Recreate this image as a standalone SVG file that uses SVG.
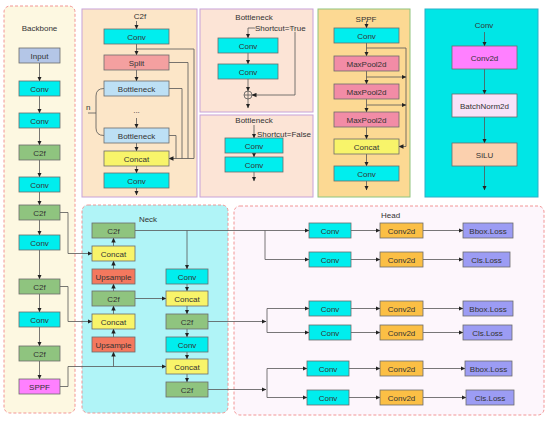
<svg xmlns="http://www.w3.org/2000/svg" width="550" height="421" viewBox="0 0 550 421">
<defs>
<marker id="ah" markerUnits="userSpaceOnUse" markerWidth="5" markerHeight="5" refX="4.5" refY="2.5" orient="auto">
<path d="M0,0.3 L4.8,2.5 L0,4.7 z" fill="#222"/>
</marker>
<style>
text{font-family:"Liberation Sans",Arial,sans-serif;font-size:8px;fill:#333;}
.c{text-anchor:middle;}
.b{stroke:#6b6b6b;stroke-width:0.8;}
.conv{fill:#00eeee;}
.c2f{fill:#8fc47f;}
.cat{fill:#f8f46a;}
.up{fill:#f4785e;}
.inp{fill:#b4c6e7;}
.sppf{fill:#ff80ff;}
.split{fill:#f4a0a0;}
.bott{fill:#bde0f5;}
.mp{fill:#f28ca6;}
.c2d{fill:#fbbf45;}
.loss{fill:#9c9cf4;}
.ln{fill:none;stroke:#555;stroke-width:0.8;}
.la{fill:none;stroke:#555;stroke-width:0.8;marker-end:url(#ah);}
.dash{stroke:#f08a8a;stroke-width:0.9;stroke-dasharray:3,2;}
.lav{stroke:#c8a2d8;stroke-width:1;}
</style>
</defs>
<rect width="550" height="421" fill="#ffffff"/>

<!-- Panels -->
<g id="panels">
<rect x="4" y="6" width="71" height="407" rx="6" fill="#fdf8e1" class="dash"/>
<rect x="82" y="205" width="146" height="208" rx="6" fill="#b0f4f7" class="dash"/>
<rect x="234" y="206" width="310" height="209" rx="6" fill="#fdf6fc" class="dash"/>
<rect x="82" y="9" width="115" height="188" fill="#fce6c8" class="lav"/>
<rect x="200" y="9" width="113" height="103" fill="#fce4d6" class="lav"/>
<rect x="200" y="115" width="113" height="82" fill="#fce4d6" class="lav"/>
<rect x="318" y="9" width="92" height="188" fill="#fcd993" stroke="#8fc47f" stroke-width="1"/>
<rect x="425" y="9" width="113" height="188" fill="#00e6e6" stroke="#2ab0c8" stroke-width="1"/>
<text x="39.5" y="31" class="c">Backbone</text>
<text x="148" y="222" class="c">Neck</text>
<text x="381" y="218">Head</text>
<text x="140" y="19" class="c">C2f</text>
<text x="254" y="20" class="c">Bottleneck</text>
<text x="254" y="123" class="c">Bottleneck</text>
<text x="257" y="137">Shortcut=False</text>
<text x="366" y="22" class="c">SPPF</text>
<text x="484" y="28" class="c">Conv</text>
<text x="86" y="110">n</text>
<text x="136.5" y="113" class="c">...</text>
</g>

<!-- Connectors -->
<g id="connectors">
<!-- backbone -->
<path class="la" d="M39.5,63 V81"/>
<path class="la" d="M39.5,96 V113"/>
<path class="la" d="M39.5,128 V145"/>
<path class="la" d="M39.5,160 V177"/>
<path class="la" d="M39.5,192 V205"/>
<path class="la" d="M39.5,220 V235"/>
<path class="la" d="M39.5,250 V279"/>
<path class="la" d="M39.5,294 V312"/>
<path class="la" d="M39.5,327 V346"/>
<path class="la" d="M39.5,361 V379"/>
<path class="la" d="M60,212.5 H68 V253.5 H92"/>
<path class="la" d="M60,286.5 H68 V321.5 H92"/>
<path class="la" d="M60,386.5 H68 V366.5 H166"/>
<path class="la" d="M113.5,366.5 V352"/>
<!-- neck -->
<path class="la" d="M113.5,246 V238"/>
<path class="la" d="M113.5,269 V261"/>
<path class="la" d="M113.5,291 V284"/>
<path class="la" d="M113.5,314 V306"/>
<path class="la" d="M113.5,337 V329"/>
<path class="la" d="M187,230.5 V269"/>
<path class="la" d="M187,284 V291"/>
<path class="la" d="M187,306 V314"/>
<path class="la" d="M187,329 V337"/>
<path class="la" d="M187,352 V359"/>
<path class="la" d="M187,374 V382"/>
<path class="la" d="M135,298.5 H166"/>
<!-- to head -->
<path class="la" d="M135,230.5 H309"/>
<path class="la" d="M265,230.5 V259.5 H309"/>
<path class="la" d="M208,321.5 H266"/>
<path class="ln" d="M267,308.5 V332.5"/>
<path class="la" d="M267,308.5 H309"/>
<path class="la" d="M267,332.5 H309"/>
<path class="la" d="M208,389.5 H266"/>
<path class="ln" d="M267,368.5 V397.5"/>
<path class="la" d="M267,368.5 H307"/>
<path class="la" d="M267,397.5 H307"/>
<!-- head rows -->
<path class="la" d="M351,230.5 H380"/>
<path class="la" d="M351,259.5 H380"/>
<path class="la" d="M351,308.5 H380"/>
<path class="la" d="M351,332.5 H380"/>
<path class="la" d="M349,368.5 H380"/>
<path class="la" d="M349,397.5 H380"/>
<path class="la" d="M423,230.5 H463"/>
<path class="la" d="M423,259.5 H463"/>
<path class="la" d="M423,308.5 H463"/>
<path class="la" d="M423,332.5 H463"/>
<path class="la" d="M423,368.5 H465"/>
<path class="la" d="M423,397.5 H466"/>
<!-- C2f panel -->
<path class="la" d="M136.5,21 V29"/>
<path class="la" d="M136.5,44 V55"/>
<path class="la" d="M136.5,70 V81"/>
<path class="la" d="M136.5,118 V128"/>
<path class="la" d="M136.5,143 V151"/>
<path class="la" d="M136.5,166 V173"/>
<path class="la" d="M136.5,188 V195"/>
<path class="la" d="M136.5,49 H194 V158.5 H169"/>
<path class="ln" d="M169,62.5 H188 V158.5"/>
<path class="ln" d="M169,88.5 H182 V158.5"/>
<path class="ln" d="M169,135.5 H176 V158.5"/>
<path class="ln" d="M104,88.5 Q96,88.5 96,96 V128 Q96,135.5 104,135.5"/>
<path class="ln" d="M88,113 H96"/>
<!-- Bottleneck True -->
<path class="la" d="M248,28 V38"/>
<path class="la" d="M248,28 H295 V95 H252"/>
<path class="la" d="M248,53 V64"/>
<path class="la" d="M248,79 V91"/>
<path class="la" d="M248,99 V108"/>
<circle cx="248" cy="95" r="4" fill="none" stroke="#555" stroke-width="0.8"/>
<path class="ln" d="M244,95 H252 M248,91 V99"/>
<!-- Bottleneck False -->
<path class="la" d="M254,125 V138"/>
<path class="la" d="M254,153 V157"/>
<path class="la" d="M254,172 V181"/>
<!-- SPPF -->
<path class="la" d="M366.5,21 V28"/>
<path class="la" d="M366.5,43 V56"/>
<path class="la" d="M366.5,71 V84"/>
<path class="la" d="M366.5,99 V112"/>
<path class="la" d="M366.5,127 V139"/>
<path class="la" d="M366.5,154 V166"/>
<path class="la" d="M366.5,181 V190"/>
<path class="la" d="M366.5,48 H406 V146.5 H399"/>
<path class="la" d="M366.5,77 H406"/>
<path class="la" d="M366.5,105 H406"/>
<!-- Conv panel -->
<path class="la" d="M484.5,32 V46"/>
<path class="la" d="M484.5,69 V94"/>
<path class="la" d="M484.5,117 V143"/>
<path class="la" d="M484.5,166 V190"/>
</g>
<text x="255" y="31" fill="#333" style="paint-order:stroke" stroke="#fce4d6" stroke-width="1.5">Shortcut=True</text>

<!-- Backbone nodes -->
<g id="bb-input"><rect x="19" y="48" width="41" height="15" class="b inp"/><text x="39.5" y="58.5" class="c">Input</text></g>
<g id="bb-conv1"><rect x="19" y="81" width="41" height="15" class="b conv"/><text x="39.5" y="91.5" class="c">Conv</text></g>
<g id="bb-conv2"><rect x="19" y="113" width="41" height="15" class="b conv"/><text x="39.5" y="123.5" class="c">Conv</text></g>
<g id="bb-c2f1"><rect x="19" y="145" width="41" height="15" class="b c2f"/><text x="39.5" y="155.5" class="c">C2f</text></g>
<g id="bb-conv3"><rect x="19" y="177" width="41" height="15" class="b conv"/><text x="39.5" y="187.5" class="c">Conv</text></g>
<g id="bb-c2f2"><rect x="19" y="205" width="41" height="15" class="b c2f"/><text x="39.5" y="215.5" class="c">C2f</text></g>
<g id="bb-conv4"><rect x="19" y="235" width="41" height="15" class="b conv"/><text x="39.5" y="245.5" class="c">Conv</text></g>
<g id="bb-c2f3"><rect x="19" y="279" width="41" height="15" class="b c2f"/><text x="39.5" y="289.5" class="c">C2f</text></g>
<g id="bb-conv5"><rect x="19" y="312" width="41" height="15" class="b conv"/><text x="39.5" y="322.5" class="c">Conv</text></g>
<g id="bb-c2f4"><rect x="19" y="346" width="41" height="15" class="b c2f"/><text x="39.5" y="356.5" class="c">C2f</text></g>
<g id="bb-sppf"><rect x="19" y="379" width="41" height="15" class="b sppf"/><text x="39.5" y="389.5" class="c">SPPF</text></g>

<!-- Neck nodes -->
<g id="nk-c2f1"><rect x="92" y="223" width="43" height="15" class="b c2f"/><text x="113.5" y="233.5" class="c">C2f</text></g>
<g id="nk-cat1"><rect x="92" y="246" width="43" height="15" class="b cat"/><text x="113.5" y="256.5" class="c">Concat</text></g>
<g id="nk-up1"><rect x="92" y="269" width="43" height="15" class="b up"/><text x="113.5" y="279.5" class="c">Upsample</text></g>
<g id="nk-c2f2"><rect x="92" y="291" width="43" height="15" class="b c2f"/><text x="113.5" y="301.5" class="c">C2f</text></g>
<g id="nk-cat2"><rect x="92" y="314" width="43" height="15" class="b cat"/><text x="113.5" y="324.5" class="c">Concat</text></g>
<g id="nk-up2"><rect x="92" y="337" width="43" height="15" class="b up"/><text x="113.5" y="347.5" class="c">Upsample</text></g>
<g id="nk-conv1"><rect x="166" y="269" width="42" height="15" class="b conv"/><text x="187" y="279.5" class="c">Conv</text></g>
<g id="nk-cat3"><rect x="166" y="291" width="42" height="15" class="b cat"/><text x="187" y="301.5" class="c">Concat</text></g>
<g id="nk-c2f3"><rect x="166" y="314" width="42" height="15" class="b c2f"/><text x="187" y="324.5" class="c">C2f</text></g>
<g id="nk-conv2"><rect x="166" y="337" width="42" height="15" class="b conv"/><text x="187" y="347.5" class="c">Conv</text></g>
<g id="nk-cat4"><rect x="166" y="359" width="42" height="15" class="b cat"/><text x="187" y="369.5" class="c">Concat</text></g>
<g id="nk-c2f4"><rect x="166" y="382" width="42" height="15" class="b c2f"/><text x="187" y="392.5" class="c">C2f</text></g>

<!-- Head nodes -->
<g id="hd-conv1"><rect x="309" y="223" width="42" height="15" class="b conv"/><text x="330" y="233.5" class="c">Conv</text></g>
<g id="hd-conv2"><rect x="309" y="252" width="42" height="15" class="b conv"/><text x="330" y="262.5" class="c">Conv</text></g>
<g id="hd-conv3"><rect x="309" y="301" width="42" height="15" class="b conv"/><text x="330" y="311.5" class="c">Conv</text></g>
<g id="hd-conv4"><rect x="309" y="325" width="42" height="15" class="b conv"/><text x="330" y="335.5" class="c">Conv</text></g>
<g id="hd-conv5"><rect x="307" y="361" width="42" height="15" class="b conv"/><text x="328" y="371.5" class="c">Conv</text></g>
<g id="hd-conv6"><rect x="307" y="390" width="42" height="15" class="b conv"/><text x="328" y="400.5" class="c">Conv</text></g>
<g id="hd-c2d1"><rect x="380" y="223" width="43" height="15" class="b c2d"/><text x="401.5" y="233.5" class="c">Conv2d</text></g>
<g id="hd-c2d2"><rect x="380" y="252" width="43" height="15" class="b c2d"/><text x="401.5" y="262.5" class="c">Conv2d</text></g>
<g id="hd-c2d3"><rect x="380" y="301" width="43" height="15" class="b c2d"/><text x="401.5" y="311.5" class="c">Conv2d</text></g>
<g id="hd-c2d4"><rect x="380" y="325" width="43" height="15" class="b c2d"/><text x="401.5" y="335.5" class="c">Conv2d</text></g>
<g id="hd-c2d5"><rect x="380" y="361" width="43" height="15" class="b c2d"/><text x="401.5" y="371.5" class="c">Conv2d</text></g>
<g id="hd-c2d6"><rect x="380" y="390" width="43" height="15" class="b c2d"/><text x="401.5" y="400.5" class="c">Conv2d</text></g>
<g id="hd-loss1"><rect x="463" y="223" width="50" height="15" class="b loss"/><text x="488" y="233.5" class="c">Bbox.Loss</text></g>
<g id="hd-loss2"><rect x="463" y="252" width="47" height="15" class="b loss"/><text x="486.5" y="262.5" class="c">Cls.Loss</text></g>
<g id="hd-loss3"><rect x="463" y="301" width="50" height="15" class="b loss"/><text x="488" y="311.5" class="c">Bbox.Loss</text></g>
<g id="hd-loss4"><rect x="463" y="325" width="49" height="15" class="b loss"/><text x="487.5" y="335.5" class="c">Cls.Loss</text></g>
<g id="hd-loss5"><rect x="465" y="361" width="47" height="15" class="b loss"/><text x="488.5" y="371.5" class="c">Bbox.Loss</text></g>
<g id="hd-loss6"><rect x="466" y="390" width="48" height="15" class="b loss"/><text x="490" y="400.5" class="c">Cls.Loss</text></g>

<!-- C2f detail -->
<g id="c2f-conv1"><rect x="104" y="29" width="65" height="15" class="b conv"/><text x="136.5" y="39.5" class="c">Conv</text></g>
<g id="c2f-split"><rect x="104" y="55" width="65" height="15" class="b split"/><text x="136.5" y="65.5" class="c">Split</text></g>
<g id="c2f-bott1"><rect x="104" y="81" width="65" height="15" class="b bott"/><text x="136.5" y="91.5" class="c">Bottleneck</text></g>
<g id="c2f-bott2"><rect x="104" y="128" width="65" height="15" class="b bott"/><text x="136.5" y="138.5" class="c">Bottleneck</text></g>
<g id="c2f-concat"><rect x="104" y="151" width="65" height="15" class="b cat"/><text x="136.5" y="161.5" class="c">Concat</text></g>
<g id="c2f-conv2"><rect x="104" y="173" width="65" height="15" class="b conv"/><text x="136.5" y="183.5" class="c">Conv</text></g>

<!-- Bottleneck details -->
<g id="bt-conv1"><rect x="218" y="38" width="60" height="15" class="b conv"/><text x="248" y="48.5" class="c">Conv</text></g>
<g id="bt-conv2"><rect x="218" y="64" width="60" height="15" class="b conv"/><text x="248" y="74.5" class="c">Conv</text></g>
<g id="bf-conv1"><rect x="225" y="138" width="58" height="15" class="b conv"/><text x="254" y="148.5" class="c">Conv</text></g>
<g id="bf-conv2"><rect x="225" y="157" width="58" height="15" class="b conv"/><text x="254" y="167.5" class="c">Conv</text></g>

<!-- SPPF detail -->
<g id="sp-conv1"><rect x="334" y="28" width="65" height="15" class="b conv"/><text x="366.5" y="38.5" class="c">Conv</text></g>
<g id="sp-mp1"><rect x="334" y="56" width="65" height="15" class="b mp"/><text x="366.5" y="66.5" class="c">MaxPool2d</text></g>
<g id="sp-mp2"><rect x="334" y="84" width="65" height="15" class="b mp"/><text x="366.5" y="94.5" class="c">MaxPool2d</text></g>
<g id="sp-mp3"><rect x="334" y="112" width="65" height="15" class="b mp"/><text x="366.5" y="122.5" class="c">MaxPool2d</text></g>
<g id="sp-concat"><rect x="334" y="139" width="65" height="15" class="b cat"/><text x="366.5" y="149.5" class="c">Concat</text></g>
<g id="sp-conv2"><rect x="334" y="166" width="65" height="15" class="b conv"/><text x="366.5" y="176.5" class="c">Conv</text></g>

<!-- Conv detail -->
<g id="cv-conv2d"><rect x="452" y="46" width="65" height="23" class="b" fill="#ff80ff"/><text x="484.5" y="60.5" class="c">Conv2d</text></g>
<g id="cv-bn"><rect x="452" y="94" width="65" height="23" class="b" fill="#f8e2f8"/><text x="484.5" y="108.5" class="c">BatchNorm2d</text></g>
<g id="cv-silu"><rect x="452" y="143" width="65" height="23" class="b" fill="#fbd0ae"/><text x="484.5" y="157.5" class="c">SiLU</text></g>
</svg>
